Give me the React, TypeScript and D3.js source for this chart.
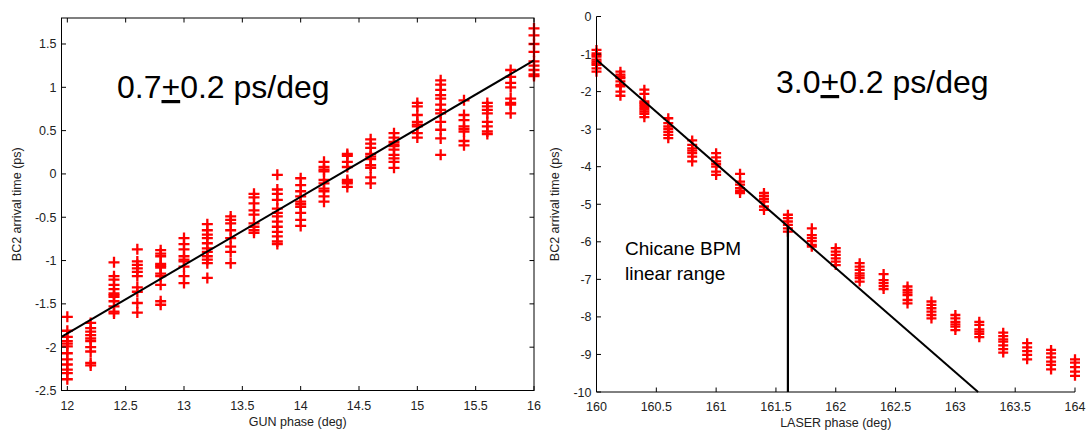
import React from "react";
import * as d3 from "d3";

const gunPhase = [12, 12.2, 12.4, 12.6, 12.8, 13, 13.2, 13.4, 13.6, 13.8, 14, 14.2, 14.4, 14.6, 14.8, 15, 15.2, 15.4, 15.6, 15.8, 16];
const gunArrival = [
  [-1.65, -1.81, -1.88, -1.93, -1.96, -1.99, -2.07, -2.14, -2.2, -2.26, -2.3, -2.37],
  [-1.72, -1.78, -1.82, -1.86, -1.9, -1.93, -2.0, -2.05, -2.18, -2.21],
  [-1.02, -1.18, -1.22, -1.28, -1.33, -1.38, -1.4, -1.42, -1.47, -1.53, -1.59, -1.61],
  [-0.87, -1.01, -1.05, -1.09, -1.13, -1.18, -1.31, -1.36, -1.49, -1.6],
  [-0.88, -0.92, -0.95, -1.04, -1.06, -1.08, -1.15, -1.18, -1.28, -1.47, -1.51],
  [-0.74, -0.81, -0.87, -0.95, -0.99, -1.01, -1.07, -1.18, -1.26],
  [-0.58, -0.65, -0.7, -0.74, -0.8, -0.86, -0.9, -0.95, -0.99, -1.03, -1.2],
  [-0.49, -0.53, -0.57, -0.65, -0.74, -0.84, -0.9, -1.03],
  [-0.23, -0.27, -0.34, -0.42, -0.47, -0.57, -0.61, -0.65, -0.68],
  [-0.01, -0.18, -0.23, -0.3, -0.4, -0.45, -0.49, -0.55, -0.61, -0.67, -0.72, -0.78, -0.81],
  [-0.05, -0.13, -0.2, -0.26, -0.32, -0.35, -0.38, -0.45, -0.53, -0.6],
  [0.14, 0.08, 0.05, 0.03, -0.07, -0.11, -0.17, -0.2, -0.26, -0.32],
  [0.23, 0.21, 0.14, 0.08, -0.07, -0.09, -0.11, -0.15],
  [0.4, 0.35, 0.3, 0.23, 0.2, 0.17, 0.1, 0.07, -0.04, -0.11],
  [0.47, 0.42, 0.37, 0.34, 0.32, 0.28, 0.22, 0.18, 0.14, 0.07],
  [0.82, 0.78, 0.68, 0.6, 0.57, 0.55, 0.47, 0.42],
  [1.08, 1.03, 0.97, 0.91, 0.87, 0.8, 0.74, 0.7, 0.6, 0.51, 0.41, 0.22],
  [0.85, 0.68, 0.62, 0.55, 0.52, 0.49, 0.38, 0.33],
  [0.82, 0.78, 0.74, 0.7, 0.6, 0.55, 0.49, 0.46],
  [1.2, 1.12, 1.05, 1.0, 0.87, 0.82, 0.8, 0.7],
  [1.68, 1.6, 1.5, 1.41, 1.3, 1.25, 1.2, 1.15, 1.13],
];
const gunFit = [[11.95, -1.88], [16, 1.31]];
const gunXTicks = [12, 12.5, 13, 13.5, 14, 14.5, 15, 15.5, 16];
const gunYTicks = [-2.5, -2, -1.5, -1, -0.5, 0, 0.5, 1, 1.5];

const laserPhase = [160, 160.2, 160.4, 160.6, 160.8, 161, 161.2, 161.4, 161.6, 161.8, 162, 162.2, 162.4, 162.6, 162.8, 163, 163.2, 163.4, 163.6, 163.8, 164];
const laserArrival = [
  [-0.89, -0.98, -1.03, -1.07, -1.15, -1.2, -1.25, -1.29, -1.38, -1.47],
  [-1.47, -1.55, -1.6, -1.64, -1.73, -1.82, -1.86, -2.0, -2.11],
  [-1.95, -2.06, -2.26, -2.3, -2.35, -2.41, -2.47, -2.53, -2.59, -2.68],
  [-2.71, -2.84, -2.93, -3.0, -3.07, -3.15, -3.24],
  [-3.3, -3.42, -3.51, -3.57, -3.64, -3.73, -3.86],
  [-3.64, -3.75, -3.86, -3.93, -4.0, -4.13, -4.22],
  [-4.19, -4.4, -4.48, -4.57, -4.64, -4.7],
  [-4.7, -4.78, -4.86, -4.93, -5.06, -5.15],
  [-5.28, -5.37, -5.46, -5.55, -5.64, -5.73],
  [-5.64, -5.82, -5.9, -5.98, -6.08, -6.13],
  [-6.17, -6.26, -6.35, -6.44, -6.53, -6.62],
  [-6.57, -6.66, -6.75, -6.84, -6.9, -6.97, -7.06],
  [-6.86, -7.02, -7.1, -7.18, -7.26],
  [-7.19, -7.28, -7.35, -7.42, -7.55, -7.64],
  [-7.59, -7.68, -7.77, -7.86, -7.95, -8.04],
  [-7.95, -8.04, -8.13, -8.2, -8.26, -8.35],
  [-8.13, -8.21, -8.33, -8.39, -8.45, -8.54],
  [-8.42, -8.51, -8.6, -8.66, -8.76, -8.86, -8.95],
  [-8.7, -8.81, -8.91, -9.01, -9.13],
  [-8.88, -8.97, -9.08, -9.19, -9.28, -9.4],
  [-9.13, -9.22, -9.34, -9.46, -9.57],
];
const laserFit = [[160, -1.15], [163.19, -10]];
const laserRangeEdge = [[161.6, -10], [161.6, -5.59]];
const laserXTicks = [160, 160.5, 161, 161.5, 162, 162.5, 163, 163.5, 164];
const laserYTicks = [0, -1, -2, -3, -4, -5, -6, -7, -8, -9, -10];

const FONT = "Liberation Sans, Arial, sans-serif";
const RED = "#ff0000";

function Plus({ x, y, s, w }: { x: number; y: number; s: number; w: number }) {
  return (
    <path d={`M${x - s},${y}H${x + s}M${x},${y - s}V${y + s}`} stroke={RED} strokeWidth={w} fill="none" />
  );
}

function fmt(v: number) {
  return String(v);
}

export default function App() {
  // Left panel scales
  const gx = d3.scaleLinear().domain([11.95, 16]).range([61.5, 534]);
  const gy = d3.scaleLinear().domain([-2.5, 1.8]).range([390.5, 18]);
  // Right panel scales
  const lx = d3.scaleLinear().domain([160, 164]).range([596.5, 1075]);
  const ly = d3.scaleLinear().domain([-10, 0]).range([392, 16.5]);

  const gLine = d3.line<number[]>().x((d) => gx(d[0])).y((d) => gy(d[1]));
  const lLine = d3.line<number[]>().x((d) => lx(d[0])).y((d) => ly(d[1]));

  const tl = 4.5;
  const [gx0, gx1] = gx.range();
  const [gy0, gy1] = gy.range();
  const [lx0] = lx.range();
  const [ly0, ly1] = ly.range();

  return (
    <svg width={1091} height={432} style={{ position: "absolute", left: 0, top: 0, background: "#fff" }} fontFamily={FONT}>
      <rect x={0} y={0} width={1091} height={432} fill="#fff" />
      {/* LEFT PANEL */}
      <g>
        {gunPhase.map((p, i) =>
          gunArrival[i].map((v, j) => <Plus key={`g${i}-${j}`} x={gx(p)} y={gy(v)} s={5.5} w={2.3} />)
        )}
        <path d={gLine(gunFit) || ""} stroke="#000" strokeWidth={2} fill="none" />
        <rect x={gx0} y={gy1} width={gx1 - gx0} height={gy0 - gy1} fill="none" stroke="#000" strokeWidth={1} />
        {gunXTicks.map((t) => (
          <g key={`gxt${t}`}>
            <line x1={gx(t)} x2={gx(t)} y1={gy0} y2={gy0 - tl} stroke="#000" />
            <line x1={gx(t)} x2={gx(t)} y1={gy1} y2={gy1 + tl} stroke="#000" />
            <text x={gx(t)} y={gy0 + 19} fontSize={12.5} textAnchor="middle" fill="#222">{fmt(t)}</text>
          </g>
        ))}
        {gunYTicks.map((t) => (
          <g key={`gyt${t}`}>
            <line x1={gx0} x2={gx0 + tl} y1={gy(t)} y2={gy(t)} stroke="#000" />
            <line x1={gx1} x2={gx1 - tl} y1={gy(t)} y2={gy(t)} stroke="#000" />
            <text x={gx0 - 5} y={gy(t) + 4.5} fontSize={12.5} textAnchor="end" fill="#222">{fmt(t)}</text>
          </g>
        ))}
        <text x={(gx0 + gx1) / 2} y={426} fontSize={12.5} textAnchor="middle" fill="#222">GUN phase (deg)</text>
        <text transform={`translate(21,${(gy0 + gy1) / 2}) rotate(-90)`} fontSize={12.5} textAnchor="middle" fill="#222">BC2 arrival time (ps)</text>
        <text x={117} y={98} fontSize={32} fill="#000">
          0.7<tspan style={{ textDecoration: "underline" }}>+</tspan>0.2 ps/deg
        </text>
      </g>
      {/* RIGHT PANEL */}
      <g>
        {laserPhase.map((p, i) =>
          laserArrival[i].map((v, j) => <Plus key={`l${i}-${j}`} x={lx(p)} y={ly(v)} s={5} w={2.3} />)
        )}
        <path d={lLine(laserFit) || ""} stroke="#000" strokeWidth={2} fill="none" />
        <path d={lLine(laserRangeEdge) || ""} stroke="#000" strokeWidth={2.2} fill="none" />
        <line x1={lx0} x2={lx0} y1={ly0} y2={ly1} stroke="#000" />
        <line x1={lx0} x2={lx.range()[1]} y1={ly0} y2={ly0} stroke="#000" />
        {laserXTicks.map((t) => (
          <g key={`lxt${t}`}>
            <line x1={lx(t)} x2={lx(t)} y1={ly0} y2={ly0 - tl} stroke="#000" />
            <text x={lx(t)} y={ly0 + 19} fontSize={12.5} textAnchor="middle" fill="#222">{fmt(t)}</text>
          </g>
        ))}
        {laserYTicks.map((t) => (
          <g key={`lyt${t}`}>
            <line x1={lx0} x2={lx0 + tl} y1={ly(t)} y2={ly(t)} stroke="#000" />
            <text x={lx0 - 5} y={ly(t) + 4.5} fontSize={12.5} textAnchor="end" fill="#222">{fmt(t)}</text>
          </g>
        ))}
        <text x={(lx0 + lx.range()[1]) / 2} y={427} fontSize={12.5} textAnchor="middle" fill="#222">LASER phase (deg)</text>
        <text transform={`translate(559,${(ly0 + ly1) / 2}) rotate(-90)`} fontSize={12.5} textAnchor="middle" fill="#222">BC2 arrival time (ps)</text>
        <text x={776} y={93} fontSize={32} fill="#000">
          3.0<tspan style={{ textDecoration: "underline" }}>+</tspan>0.2 ps/deg
        </text>
        <text x={625} y={255} fontSize={19} fill="#000">Chicane BPM</text>
        <text x={625} y={280} fontSize={19} fill="#000">linear range</text>
      </g>
    </svg>
  );
}
